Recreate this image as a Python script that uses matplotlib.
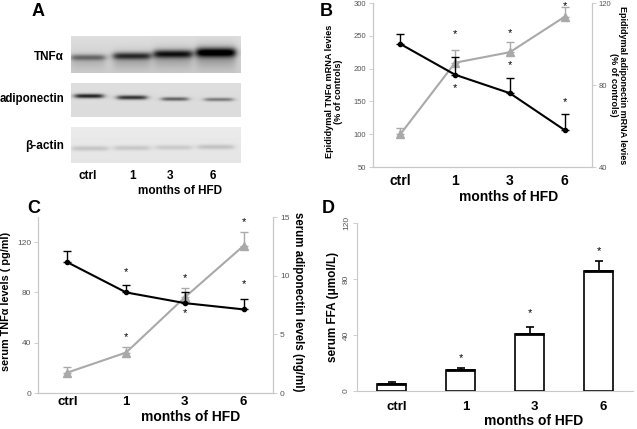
import numpy as np
import matplotlib.pyplot as plt
import matplotlib.transforms as mtransforms

plt.rcParams['font.family'] = ['Liberation Sans', 'DejaVu Sans']

months = ['ctrl', '1', '3', '6']

# Panel A: relative band darkness per lane
tnf_band = [0.36, 0.55, 0.63, 0.76]
adipo_band = [0.75, 0.68, 0.50, 0.40]
actin_band = [0.14, 0.13, 0.12, 0.15]

# Panel B: epididymal mRNA (% of controls)
b_tnf = [100, 209, 225, 279]
b_tnf_err = [10, 20, 15, 15]
b_adipo = [100, 85, 76, 58]
b_adipo_err = [5, 8.7, 7.5, 8]
b_star_y = [[252, 170], [254.5, 205], [296, 148.5]]

# Panel C: serum levels
c_tnf = [104, 80, 71.5, 66.5]
c_tnf_err = [9, 6, 9, 8.5]
c_adipo = [1.74, 3.45, 8.16, 12.55]
c_adipo_err = [0.5, 0.43, 0.8, 1.2]
c_star_y = [[95.8, 44.2], [91.3, 63.3], [135.7, 86.7]]

# Panel D: serum FFA
d_ffa = [5, 15, 40.5, 85.5]
d_ffa_err = [1.5, 1.7, 5, 7.7]
d_star_y = [23.6, 56, 100]

W, H = 637, 429
fig = plt.figure(figsize=(W / 100, H / 100), dpi=100)


def rect(l, t, r, b):
    return [l / W, 1 - b / H, (r - l) / W, (b - t) / H]


GRAY = '#a9a9a9'
SP = '#c8c8c8'
TL = '#555555'
x = np.arange(4)


def style(ax, spines, fs, xfs=9.5, xpad=3):
    for s in ['left', 'right', 'top', 'bottom']:
        if s in spines:
            ax.spines[s].set_color(SP)
            ax.spines[s].set_linewidth(0.8)
        else:
            ax.spines[s].set_visible(False)
    ax.tick_params(axis='y', direction='out', length=3, width=0.6, color=SP,
                   labelcolor=TL, labelsize=fs, pad=2)
    ax.tick_params(axis='x', length=0, labelsize=xfs, pad=xpad)
    ax.patch.set_alpha(0)


# ---------- Panel B ----------
axb = fig.add_axes(rect(373, 3, 592, 167))
axb2 = axb.twinx()
axb.set_xlim(-0.5, 3.5)
axb.set_ylim(50, 300)
axb.set_yticks([50, 100, 150, 200, 250, 300])
axb2.set_ylim(40, 120)
axb2.set_yticks([40, 80, 120])
axb.set_xticks(x)
axb.set_xticklabels(months, fontweight='bold')
style(axb, ['left', 'right', 'bottom'], 5.5, xfs=10, xpad=5)
style(axb2, ['left', 'right', 'bottom'], 5.5, xfs=10, xpad=5)
axb.errorbar(x, b_tnf, yerr=[np.zeros(4), b_tnf_err], color=GRAY, lw=1.5,
             marker='^', ms=6, capsize=3, elinewidth=1, capthick=1)
axb2.errorbar(x, b_adipo, yerr=[np.zeros(4), b_adipo_err], color='black', lw=1.5,
              marker='o', ms=3, capsize=3, elinewidth=1, capthick=1)
for i, ys in enumerate(b_star_y):
    for yy in ys:
        axb.text(i + 1, yy, '*', ha='center', va='center', fontsize=8, clip_on=False)
axb.set_ylabel('Epididymal TNF\u03b1 mRNA levies\n(% of controls)', fontsize=6.6,
               fontweight='bold', labelpad=5, linespacing=1.0)
axb.yaxis.set_label_coords(-0.135, 0.46)
axb2.set_ylabel('Epididymal adiponectin mRNA levies\n(% of controls)', fontsize=6.5,
                fontweight='bold', rotation=270, labelpad=16, linespacing=1.0)
axb2.yaxis.set_label_coords(1.16, 0.5)
axb.text(0.62, -0.18, 'months of HFD', transform=axb.transAxes, ha='center',
         va='center', fontsize=10, fontweight='bold')

# ---------- Panel C ----------
axc = fig.add_axes(rect(38, 217, 273, 393))
axc2 = axc.twinx()
axc.set_xlim(-0.5, 3.5)
axc.set_ylim(0, 140)
axc.set_yticks([0, 40, 80, 120])
axc2.set_ylim(0, 15)
axc2.set_yticks([0, 5, 10, 15])
axc.set_xticks(x)
axc.set_xticklabels(months, fontweight='bold')
style(axc, ['left', 'right', 'bottom'], 6, xfs=9.5, xpad=2)
style(axc2, ['left', 'right', 'bottom'], 6, xfs=9.5, xpad=2)
axc2.errorbar(x, c_adipo, yerr=[np.zeros(4), c_adipo_err], color=GRAY, lw=1.5,
              marker='^', ms=6, capsize=3, elinewidth=1, capthick=1)
axc.errorbar(x, c_tnf, yerr=[np.zeros(4), c_tnf_err], color='black', lw=1.5,
             marker='o', ms=3, capsize=3, elinewidth=1, capthick=1, zorder=5)
axc.set_zorder(axc2.get_zorder() + 1)
for i, ys in enumerate(c_star_y):
    for yy in ys:
        axc.text(i + 1, yy, '*', ha='center', va='center', fontsize=8, clip_on=False)
axc.set_ylabel('serum TNF\u03b1 levels ( pg/ml)', fontsize=7.8, fontweight='bold')
axc.yaxis.set_label_coords(-0.115, 0.52)
axc2.set_ylabel('serum adiponectin levels (ng/ml)', fontsize=8.3, fontweight='bold',
                rotation=270)
axc2.yaxis.set_label_coords(1.13, 0.52)
axc.text(0.65, -0.135, 'months of HFD', transform=axc.transAxes, ha='center',
         va='center', fontsize=10, fontweight='bold')

# ---------- Panel D ----------
axd = fig.add_axes(rect(357, 223, 633, 391))
axd.set_xlim(-0.5, 3.5)
axd.set_ylim(0, 120)
axd.set_yticks([0, 40, 80, 120])
axd.set_xticks(x)
axd.set_xticklabels(months, fontweight='bold')
style(axd, ['left', 'bottom'], 6, xfs=9.5, xpad=7)
for lab in axd.get_yticklabels():
    lab.set_rotation(90)
    lab.set_va('center')
offset = mtransforms.ScaledTranslation(5 / 100, 0, fig.dpi_scale_trans)
for lab in axd.get_xticklabels():
    lab.set_transform(lab.get_transform() + offset)
axd.bar(x, d_ffa, width=0.41, color='white', edgecolor='black', linewidth=1.2, zorder=2)
axd.errorbar(x, d_ffa, yerr=[np.zeros(4), d_ffa_err], fmt='none', ecolor='black',
             elinewidth=1.2, capsize=3, capthick=1.2, zorder=1)
axd.hlines(d_ffa, x - 0.205, x + 0.205, colors='black', lw=2, zorder=3)
for i, yy in enumerate(d_star_y):
    axd.text(i + 1, yy, '*', ha='center', va='center', fontsize=8)
axd.set_ylabel('serum FFA (\u03bcmol/L)', fontsize=8.5, fontweight='bold', labelpad=3)
axd.text(0.64, -0.18, 'months of HFD', transform=axd.transAxes, ha='center',
         va='center', fontsize=10, fontweight='bold')

# ---------- Panel A (blot) + panel letters ----------
ov = fig.add_axes([0, 0, 1, 1])
ov.set_xlim(0, W)
ov.set_ylim(H, 0)
ov.axis('off')
ov.patch.set_alpha(0)


def strip(x0, x1, y0, y1, bg_top, bg_bot, centers, widths, ycs, sys, dens, tail=0.0):
    nx, ny = int((x1 - x0) * 3), int((y1 - y0) * 3)
    xs = np.linspace(x0, x1, nx)
    ys = np.linspace(y0, y1, ny)
    X, Y = np.meshgrid(xs, ys)
    img = bg_top + (bg_bot - bg_top) * (Y - y0) / (y1 - y0)
    for c, w, yc, sy, d in zip(centers, widths, ycs, sys, dens):
        fx = 1 / (1 + np.exp(-(X - (c - w / 2)) / 2.0)) * 1 / (1 + np.exp((X - (c + w / 2)) / 2.0))
        fy = np.exp(-((Y - yc) / sy) ** 2)
        if tail > 0:
            fy = fy + tail * np.exp(-((Y - yc - 4) / (sy * 2.5)) ** 2)
        img = img - d * fx * fy
    img = np.clip(img, 0, 1)
    ov.imshow(img, extent=(x0, x1, y1, y0), cmap='gray', vmin=0, vmax=1,
              aspect='auto', interpolation='bilinear', zorder=1)


strip(71, 241, 36, 73, 0.87, 0.80, [88, 132, 173, 216], [34, 37, 38, 39],
      [57.5, 56, 54, 52.5], [3.0, 3.5, 4.0, 4.6], tnf_band, tail=0.3)
strip(71, 241, 83, 117, 0.87, 0.86, [89, 132, 175, 219], [28, 29, 26, 28],
      [96, 97.5, 99, 99.5], [2.2, 2.2, 1.9, 1.8], adipo_band)
strip(71, 241, 127, 163, 0.92, 0.90, [90, 132, 174, 216], [36, 36, 36, 36],
      [148.5, 148, 147.5, 147], [2.5, 2.5, 2.5, 2.5], actin_band)
ov.set_xlim(0, W)
ov.set_ylim(H, 0)

ov.text(64, 57, 'TNF\u03b1', ha='right', va='center', fontsize=8.5, fontweight='bold')
ov.text(64, 99, 'adiponectin', ha='right', va='center', fontsize=8.3, fontweight='bold')
ov.text(64, 146, '\u03b2-actin', ha='right', va='center', fontsize=8.5, fontweight='bold')
for xx, lab in zip([88, 133, 170, 213], months):
    ov.text(xx, 176, lab, ha='center', va='center', fontsize=8.5, fontweight='bold')
ov.text(180, 191, 'months of HFD', ha='center', va='center', fontsize=8.5, fontweight='bold')

for xx, yy, lab in [(32, 16, 'A'), (320, 16, 'B'), (27, 213, 'C'), (322, 213, 'D')]:
    ov.text(xx, yy, lab, ha='left', va='baseline', fontsize=13, fontweight='bold')

fig.savefig('out.png', dpi=100)
